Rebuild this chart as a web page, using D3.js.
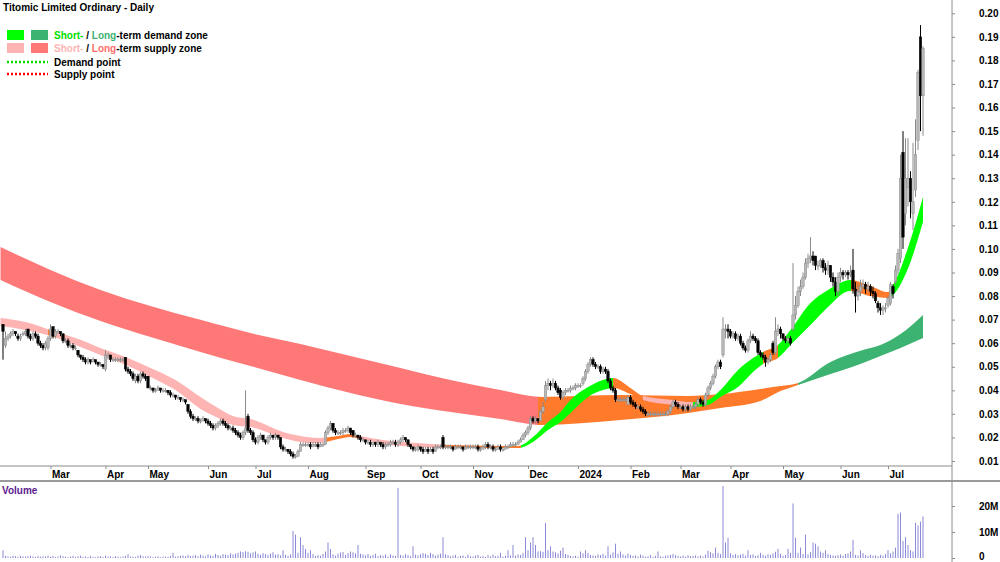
<!DOCTYPE html>
<html>
<head>
<meta charset="utf-8">
<script src="https://cdn.jsdelivr.net/npm/d3@7"></script>
<style>
body { margin: 0; background: #fff; }
text { font-family: "Liberation Sans", Arial, sans-serif; font-weight: bold; font-size: 10px; }
</style>
</head>
<body>
<div id="chart"></div>
<script>
// daily bars, prices in thousandths of a dollar (65 = 0.065)
let opens = [68,59,62,63,64,65,63,62,64,64,66,63,62,64,63,60,59,58,58,
62,67,63,65,65,64,61,61,59,59,58,57,55,54,53,52,53,52,53,52,51,51,
49,55,55,53,53,53,53,53,54,49,48,47,44,46,44,47,46,
46,41,41,40,40,41,40,40,40,39,38,38,37,37,36,36,34,31,29,28,28,27,27,28,
27,26,25,24,25,26,27,26,25,24,24,23,22,21,20,22,29,23,22,
19,18,20,21,19,18,20,21,20,21,20,16,15,15,14,13,12,12,14,17,17,
17,17,16,17,17,16,17,17,22,24,26,23,22,22,22,23,23,24,23,21,21,20,19,
19,18,18,17,18,17,18,17,16,17,17,18,18,17,18,19,20,19,17,16,15,15,
16,15,14,15,14,15,14,16,16,20,16,16,16,16,15,16,16,16,15,16,16,
16,16,16,15,15,16,17,16,16,15,15,16,15,15,16,16,17,17,17,18,19,21,
22,24,28,27,28,27,31,36,42,43,42,43,41,40,37,39,40,40,41,41,
42,42,43,45,48,51,53,51,50,50,48,49,48,44,41,40,36,36,36,36,34,
37,35,34,33,33,32,31,30,30,30,30,30,30,30,30,30,31,33,35,34,
33,33,32,33,32,33,33,34,36,35,34,38,41,43,46,50,52,55,66,66,
65,63,64,62,63,60,58,57,61,63,62,61,56,55,54,52,53,60,56,65,66,
64,62,61,62,66,72,76,82,84,88,94,96,97,97,93,93,95,92,91,93,88,86,82,
88,90,89,90,89,91,83,80,82,84,85,83,84,82,81,77,75,74,75,
76,77,84,86,91,96,141,115,126,130,115,125,146,190,165];

let highs = [68,65,64,65,66,65,64,64,65,66,66,64,65,65,64,61,60,61,63,
68,67,66,66,65,64,62,62,60,60,59,57,55,55,54,54,53,54,53,52,52,51,
57,56,55,54,54,54,54,54,54,50,49,48,47,47,48,48,47,
46,42,41,41,42,41,41,41,40,40,39,38,38,37,37,36,34,32,30,29,29,28,29,28,
28,27,26,26,27,28,28,27,26,25,25,24,23,22,23,40,30,24,23,
20,21,22,21,19,21,22,21,22,21,20,17,16,15,15,14,13,15,18,18,18,
18,18,18,18,18,18,18,23,25,27,26,24,23,23,24,24,25,24,23,22,21,21,20,
19,19,19,18,18,19,18,18,18,18,19,19,19,19,20,21,20,19,17,16,16,17,
16,16,16,16,16,16,17,17,17,21,17,17,17,16,17,17,17,16,17,17,17,
17,17,17,16,17,18,18,17,17,16,17,17,16,17,17,18,18,18,19,20,22,23,
25,29,29,29,28,32,35,44,45,44,45,44,42,41,40,41,41,42,42,43,
43,43,46,49,52,54,54,52,51,51,50,50,49,45,42,41,37,37,37,37,38,
38,36,35,34,34,33,32,31,31,31,31,31,31,31,31,32,34,36,36,35,
34,34,34,34,34,34,35,37,37,36,39,42,44,47,51,53,53,71,68,68,
66,65,65,64,64,61,59,62,65,64,63,62,57,56,55,54,56,61,71,68,67,
64,63,63,63,94,80,84,87,90,96,98,105,99,97,95,96,96,94,95,93,90,88,90,
92,91,91,91,93,100,86,85,87,87,86,86,85,84,82,78,77,76,77,
80,86,85,93,100,140,150,147,147,133,145,155,176,195,186];

let lows = [53,58,61,62,63,63,61,61,63,63,62,61,61,62,59,58,57,57,57,
61,62,62,64,63,60,60,58,58,57,57,54,53,52,51,51,51,52,51,50,50,49,
48,53,52,52,52,52,52,52,48,47,46,44,43,43,43,45,44,
41,40,39,39,40,39,39,39,38,37,37,36,36,35,35,34,30,28,27,27,26,26,27,26,
25,24,23,23,24,25,25,24,23,23,22,21,20,19,19,21,22,21,18,
17,17,19,18,17,17,19,19,19,19,15,14,14,13,12,11,11,12,14,16,16,
16,15,16,16,15,16,16,17,21,23,22,21,21,21,21,22,22,21,20,20,19,18,18,
17,17,16,16,16,16,16,15,15,16,16,17,16,16,17,18,18,16,15,14,14,14,
14,13,14,13,14,13,14,15,15,15,15,15,15,14,15,15,15,14,15,15,15,
15,15,14,14,15,15,15,15,14,14,15,14,14,15,15,16,16,16,17,18,19,20,
21,23,26,26,26,27,30,35,40,40,41,40,38,36,36,38,39,39,40,40,
41,41,42,44,47,50,50,49,49,47,47,47,43,40,39,35,35,35,35,35,34,
34,33,32,32,31,30,29,29,29,29,29,29,29,29,29,29,30,32,33,32,
32,31,31,31,31,32,32,33,34,33,33,37,40,42,45,49,49,54,62,62,
62,62,61,61,59,57,56,56,60,61,60,55,54,53,50,51,52,55,55,63,62,
61,60,60,59,65,70,75,80,83,87,92,94,93,91,91,92,90,89,89,86,84,80,80,
86,87,88,87,88,81,73,78,80,83,81,82,80,79,77,73,72,72,73,
75,76,79,85,89,94,100,110,118,113,108,122,142,150,148];

let closes = [65,62,63,64,65,64,62,63,64,65,63,62,64,63,60,59,58,60,62,
66,63,65,65,64,61,61,59,59,58,58,55,54,53,52,53,52,53,52,51,51,50,
55,55,53,53,53,53,53,53,49,48,47,45,46,44,47,46,45,
41,41,40,40,41,40,40,40,39,38,38,37,37,36,36,35,31,29,28,28,27,27,28,27,
26,25,24,25,26,27,26,25,24,24,23,22,21,20,22,24,23,22,19,
18,20,21,19,18,20,21,20,21,20,16,15,15,14,13,12,12,14,17,17,17,
17,16,17,17,16,17,17,22,24,26,23,22,22,22,23,23,24,22,21,21,20,19,19,
18,18,17,18,17,18,17,16,17,17,18,18,17,18,19,20,19,17,16,15,15,16,
15,14,15,14,15,14,16,16,16,16,16,16,16,15,16,16,16,15,16,16,16,
16,16,15,15,16,17,16,16,15,15,16,15,15,16,16,17,17,17,18,19,21,22,
24,28,27,28,27,31,33,42,43,42,43,41,39,37,39,40,40,41,41,42,
42,42,45,48,51,53,51,50,50,48,49,48,44,41,40,36,36,36,36,36,37,
35,34,33,33,32,31,30,30,30,30,30,30,30,30,30,31,33,35,34,33,
33,32,33,32,33,33,34,36,35,34,38,41,43,46,50,52,50,66,66,65,
63,64,62,63,60,58,57,61,63,62,61,56,55,54,52,53,55,56,65,66,64,
62,61,62,60,72,76,82,84,88,94,96,97,95,93,93,95,92,91,93,88,86,82,88,
90,89,90,89,90,83,80,82,84,85,83,84,82,81,78,75,74,75,75,
79,85,81,91,98,130,105,130,130,120,120,140,175,165,185];

// daily volume, millions of shares
let volumes = [3,0.8,0.6,0.5,0.9,0.7,0.4,0.8,0.6,0.5,0.7,0.9,0.6,0.4,0.8,0.5,0.7,0.6,0.9,
0.5,0.8,0.4,0.6,1.0,0.7,0.5,0.3,0.6,0.8,0.4,0.7,0.9,0.5,0.6,0.4,0.8,0.5,0.3,0.6,0.7,0.4,
0.9,0.5,0.6,0.4,0.7,0.5,0.3,0.6,0.8,1.5,0.6,0.5,0.4,0.9,1.1,0.7,0.5,
0.8,0.6,0.4,0.5,0.7,0.3,0.6,0.5,0.4,0.8,2.0,0.5,0.7,0.9,1.0,0.6,1.2,0.8,0.9,1.1,0.7,1.3,0.9,0.6,
1.4,1.0,0.8,1.6,1.2,0.9,1.5,1.3,1.1,1.8,1.4,1.7,2.0,2.5,2.3,2.6,2.4,1.8,2.2,
2.5,1.6,1.2,1.9,1.4,1.1,1.7,2.2,1.3,1.5,1.0,3.0,1.2,0.8,1.4,10.4,9.0,2.0,8.0,5.0,3.5,
2.0,3.0,1.5,0.8,1.2,0.9,1.6,2.5,6.0,3.5,1.4,0.9,1.7,2.1,2.3,1.2,1.9,2.5,2.2,1.8,5.0,1.6,1.4,
1.0,1.5,0.8,1.2,1.6,0.7,1.1,0.9,1.3,0.6,1.4,1.0,0.8,27,1.2,0.9,1.5,1.1,0.7,4.5,1.3,1.0,
1.4,1.9,1.6,1.1,2.0,1.5,0.9,1.3,1.7,8.0,1.4,1.1,0.6,0.9,1.2,0.5,0.8,1.0,0.4,1.3,0.7,
0.6,0.9,1.2,0.5,0.8,0.4,1.1,0.6,1.3,0.7,0.9,2.0,0.5,0.8,3.0,1.0,5.0,0.9,1.4,1.2,2.0,8.0,
3.0,6.0,8.0,5.0,2.5,2.6,2.4,13.5,3.0,4.5,2.5,2.2,1.8,2.8,4.0,1.5,1.2,0.8,0.6,0.9,
0.5,2.5,1.8,3.0,2.0,1.2,1.0,0.8,1.4,1.1,1.6,0.9,4.5,1.3,2.2,5.5,1.7,2.5,1.4,0.9,1.6,
1.2,0.8,1.0,0.6,1.3,0.9,0.5,0.7,1.1,0.4,0.8,2.5,0.6,0.5,0.9,1.0,1.2,1.5,1.1,0.8,
0.6,0.9,0.5,1.1,0.7,0.8,1.0,0.6,0.9,0.5,1.3,2.8,2.2,1.8,4.0,2.0,1.5,27.7,6.0,7.8,
1.8,1.2,1.5,1.0,1.3,1.6,0.9,3.0,1.2,1.4,0.8,1.1,2.0,1.3,0.9,1.5,1.2,1.8,2.4,3.5,1.6,
0.9,1.2,3.5,2.0,21.0,7.8,2.0,4.0,1.5,9.0,1.4,2.2,6.0,5.5,4.5,2.5,2.0,3.0,1.6,1.2,1.0,0.8,1.1,
1.3,0.9,1.5,1.8,2.5,7.0,1.2,1.0,3.0,1.9,1.1,0.8,1.3,0.9,1.0,0.7,1.2,0.9,1.5,
3.0,1.8,2.5,4.0,17.0,17.5,6.5,8.0,5.0,3.0,2.5,13.5,12.5,14.0,16.0];

// first trading day of each month (bar index) and its label
let monthTicks = [[19,"Mar"],[41,"Apr"],[58,"May"],[82,"Jun"],[101,"Jul"],[122,"Aug"],[145,"Sep"],
[167,"Oct"],[188,"Nov"],[210,"Dec"],[230,"2024"],[251,"Feb"],[271,"Mar"],[291,"Apr"],
[312,"May"],[335,"Jun"],[354,"Jul"]];

let priceTicks = [10,20,30,40,50,60,70,80,90,100,110,120,130,140,150,160,170,180,190,200];
let volumeTicks = [0,10,20];

// zone edges: [bar index, upper, lower]
let longBand = [[-1,100.8,86.8],[19,91.1,77.5],[39,82.6,69.4],[59,75.8,62.6],[79,69.9,56.3],
[99,64.3,50.3],[119,59.7,44.4],[139,54.6,38.9],[159,49.5,34.2],[179,44.4,30.8],[199,40.1,27.8],
[215,37.2,25.3],[247,38,27.4],[274,37.6,30.4],[287,38.4,32.5],[303,40.6,35.5],[311,41.8,39.7],
[318,43.1,42.3],[331,52,46.9],[344,57.1,51.6],[351,59.2,54.6],[359,63.9,58],[368,72,62.2]];

let shortBand = [[-1,70.7,67.3],[9,69,65.6],[19,65.6,63.1],[29,62.2,59.2],[39,58,55],[49,54.1,50.8],
[59,49.5,45.7],[69,44.4,40.1],[79,37.2,32.1],[86,32.5,28.3],[92,29.1,25.3],[99,27.8,24.4],
[112,22.3,19.8],[119,20.6,18.1],[126,19.8,17.6],[134,20.6,19.3],[139,21.5,20.2],[143,20.6,19.3],
[152,18.9,17.2],[166,17.6,15.9],[179,16.8,15.5],[206,16.4,15.5],[212,20.2,18.1],[218,26.6,23.2],
[223,30.8,26.6],[227,35.9,30.4],[234,41.4,37.2],[240,44.4,40.1],[244,45.2,41],[251,41,38.4],
[256,37.6,35.9],[268,35.9,33.8],[275,35,32.9],[282,35.9,33.8],[287,40.1,37.2],[294,48.6,41.4],
[300,53.7,47.8],[304,56.3,51.2],[310,59.2,53.7],[315,65.6,59.2],[323,77.1,67.7],[330,82.6,75.4],
[339,86.8,82.2],[347,84.3,80],[354,81.7,79.2],[356,84.7,80.5],[363,103.8,94.5],[368,122,111.5]];

// colour state of each zone over bar ranges
let longZones = [[-1,214,"longSupply"],[214,318,"neutral"],[318,368,"longDemand"]];
let shortZones = [[-1,18,"supply"],[18,21,"neutral"],[21,129,"supply"],[129,142,"neutral"],
[142,176,"supply"],[176,207,"neutral"],[207,244,"demand"],[244,256,"neutral"],[256,276,"supply"],
[276,304,"demand"],[304,310,"neutral"],[310,339,"demand"],[339,355,"neutral"],[355,368,"demand"]];

let zoneColor = {
  supply: "#ffb4b4",
  longSupply: "#ff7878",
  demand: "#00ff00",
  longDemand: "#3cb371",
  neutral: "#ff7a2a"
};

let svg = d3.select("#chart").append("svg")
  .attr("width", 1000)
  .attr("height", 562);

let x = d3.scaleLinear().domain([0, closes.length - 1]).range([3, 923]);
let y = d3.scaleLinear().domain([10, 200]).range([461, 13.3]);
let yVol = d3.scaleLinear().domain([0, 20]).range([558, 506]);

let defs = svg.append("defs");

// draw a zone band, coloured piece by piece through clip rectangles
function drawBand(band, zones, id) {
  let area = d3.area()
    .x(d => x(d[0]))
    .y0(d => y(d[2]))
    .y1(d => y(d[1]))
    .curve(d3.curveMonotoneX);
  let g = svg.append("g");
  zones.forEach((z, k) => {
    let x0 = z[0] < 0 ? 0 : Math.round(x(z[0]));
    let x1 = z[1] >= closes.length - 1 ? 930 : Math.round(x(z[1]));
    defs.append("clipPath").attr("id", id + k)
      .append("rect")
      .attr("x", x0).attr("y", 0)
      .attr("width", x1 - x0).attr("height", 470);
    g.append("path")
      .attr("d", area(band))
      .attr("fill", zoneColor[z[2]])
      .attr("clip-path", `url(#${id + k})`);
  });
}

drawBand(longBand, longZones, "lz");
drawBand(shortBand, shortZones, "sz");

// price bars
let idx = d3.range(closes.length);
let up = i => closes[i] >= opens[i];
let bars = svg.append("g");

bars.selectAll("line")
  .data(idx)
  .enter()
  .append("line")
  .attr("x1", i => x(i))
  .attr("x2", i => x(i))
  .attr("y1", i => y(highs[i]))
  .attr("y2", i => y(lows[i]))
  .attr("stroke", i => up(i) ? "#8a8a8a" : "#000")
  .attr("stroke-width", 1);

bars.selectAll("rect")
  .data(idx)
  .enter()
  .append("rect")
  .attr("x", i => x(i) - 1.2)
  .attr("width", 2.4)
  .attr("y", i => y(Math.max(opens[i], closes[i])))
  .attr("height", i => Math.max(1, y(Math.min(opens[i], closes[i])) - y(Math.max(opens[i], closes[i]))))
  .attr("fill", i => up(i) ? "#b8b8b8" : "#000")
  .attr("stroke", i => up(i) ? "#8a8a8a" : "#000")
  .attr("stroke-width", 0.5);

// volume
svg.append("g").selectAll("line")
  .data(idx)
  .enter()
  .append("line")
  .attr("x1", i => x(i))
  .attr("x2", i => x(i))
  .attr("y1", yVol(0))
  .attr("y2", i => yVol(volumes[i]))
  .attr("stroke", "#8a8ad8")
  .attr("stroke-width", 1);

// frame lines
svg.append("line").attr("x1", 0).attr("x2", 952).attr("y1", 466).attr("y2", 466)
  .attr("stroke", "#8c8c8c");
svg.append("line").attr("x1", 0).attr("x2", 1000).attr("y1", 481).attr("y2", 481)
  .attr("stroke", "#9a9a9a").attr("stroke-width", 2);
svg.append("line").attr("x1", 952).attr("x2", 952).attr("y1", 0).attr("y2", 562)
  .attr("stroke", "#8c8c8c");

// axes
let priceAxis = svg.append("g")
  .attr("transform", "translate(952,0)")
  .call(d3.axisRight(y).tickValues(priceTicks).tickSize(3).tickSizeOuter(0).tickPadding(24)
    .tickFormat(d => (d / 1000).toFixed(2)));

let volAxis = svg.append("g")
  .attr("transform", "translate(952,0)")
  .call(d3.axisRight(yVol).tickValues(volumeTicks).tickSize(3).tickSizeOuter(0).tickPadding(24)
    .tickFormat(d => d ? d + "M" : "0"));

// keep the bottom "0" inside the picture
volAxis.selectAll(".tick text").filter(d => d === 0).attr("dy", "0.1em");

let monthAxis = svg.append("g")
  .attr("transform", "translate(0,466)")
  .call(d3.axisBottom(x).tickValues(monthTicks.map(m => m[0])).tickSize(3).tickSizeOuter(0).tickPadding(2)
    .tickFormat((d, k) => monthTicks[k][1]));

monthAxis.selectAll("text").attr("text-anchor", "start").attr("x", 1);

[priceAxis, volAxis, monthAxis].forEach(a => {
  a.select(".domain").remove();
  a.selectAll("line").attr("stroke", "#8c8c8c");
  a.selectAll("text").attr("fill", "#000")
    .style("font-family", "'Liberation Sans', Arial, sans-serif")
    .style("font-weight", "bold").style("font-size", "10px");
});

// title and legend
svg.append("text").attr("x", 3).attr("y", 11).text("Titomic Limited Ordinary - Daily");

let legend = svg.append("g");
legend.append("rect").attr("x", 7).attr("y", 30).attr("width", 17).attr("height", 10).attr("fill", zoneColor.demand);
legend.append("rect").attr("x", 31).attr("y", 30).attr("width", 17).attr("height", 10).attr("fill", zoneColor.longDemand);
legend.append("rect").attr("x", 7).attr("y", 43).attr("width", 17).attr("height", 10).attr("fill", zoneColor.supply);
legend.append("rect").attr("x", 31).attr("y", 43).attr("width", 17).attr("height", 10).attr("fill", zoneColor.longSupply);
legend.append("line").attr("x1", 7).attr("x2", 48).attr("y1", 62).attr("y2", 62)
  .attr("stroke", "#00dd00").attr("stroke-width", 2.5).attr("stroke-dasharray", "2,2");
legend.append("line").attr("x1", 7).attr("x2", 48).attr("y1", 74).attr("y2", 74)
  .attr("stroke", "#ff0000").attr("stroke-width", 2.5).attr("stroke-dasharray", "2,2");

let t1 = legend.append("text").attr("x", 54).attr("y", 39);
t1.append("tspan").attr("fill", "#00e000").text("Short-");
t1.append("tspan").attr("fill", "#000").text(" / ");
t1.append("tspan").attr("fill", "#3cb371").text("Long");
t1.append("tspan").attr("fill", "#000").text("-term demand zone");

let t2 = legend.append("text").attr("x", 54).attr("y", 52);
t2.append("tspan").attr("fill", "#ffb4b4").text("Short-");
t2.append("tspan").attr("fill", "#000").text(" / ");
t2.append("tspan").attr("fill", "#ff6e6e").text("Long");
t2.append("tspan").attr("fill", "#000").text("-term supply zone");

legend.append("text").attr("x", 54).attr("y", 66).text("Demand point");
legend.append("text").attr("x", 54).attr("y", 78).text("Supply point");

svg.append("text").attr("x", 2).attr("y", 494).attr("fill", "#5b1a8e").text("Volume");
</script>
</body>
</html>
